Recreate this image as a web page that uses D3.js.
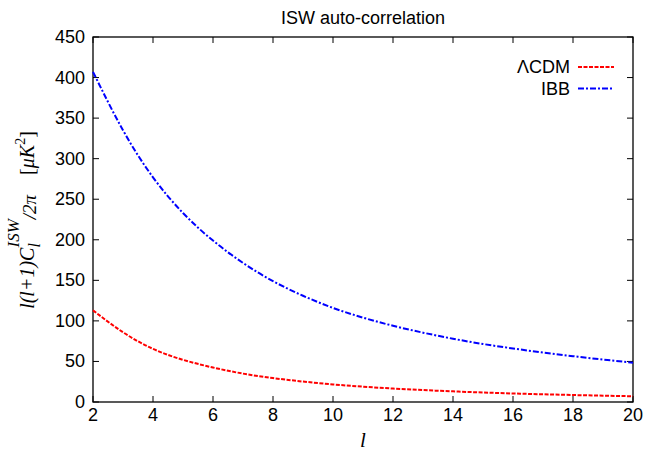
<!DOCTYPE html>
<html><head><meta charset="utf-8">
<script src="https://d3js.org/d3.v7.min.js"></script>
<style>body{margin:0;background:#fff}svg{display:block}</style>
</head><body>
<svg id="c" width="646" height="456"></svg>
<script>
const ells = [2,3,4,5,6,7,8,9,10,11,12,13,14,15,16,17,18,19,20];
const lcdm = [113,86,65.5,52,42.5,35,29.5,25.2,21.7,18.9,16.6,14.7,13.1,11.7,10.5,9.5,8.6,7.8,7.1];
const ibb  = [407,335,277,233,199,171.5,149,131,116,104,94,85.5,78,71.5,66,61,56.5,52.3,48.5];
const xTicks = [2,4,6,8,10,12,14,16,18,20];
const yTicks = [0,50,100,150,200,250,300,350,400,450];
const seriesNames = ["\u039BCDM","IBB"];

const svg = d3.select("#c");
const L = 93, R = 633, T = 37, B = 402;
const x = d3.scaleLinear().domain([2,20]).range([L,R]);
const y = d3.scaleLinear().domain([0,450]).range([B,T]);
const font = "'Liberation Sans', Arial, Helvetica, sans-serif";
const serif = "'Liberation Serif', 'Times New Roman', serif";
const fs = 18;

// frame
svg.append("rect").attr("x",L).attr("y",T).attr("width",R-L).attr("height",B-T)
  .attr("fill","none").attr("stroke","#000").attr("stroke-width",1.3);

// ticks (inside, mirrored)
const tl = 6;
const g = svg.append("g").attr("stroke","#000").attr("stroke-width",1);
xTicks.forEach(v=>{
  g.append("line").attr("x1",x(v)).attr("x2",x(v)).attr("y1",B).attr("y2",B-tl);
  g.append("line").attr("x1",x(v)).attr("x2",x(v)).attr("y1",T).attr("y2",T+tl);
});
yTicks.forEach(v=>{
  g.append("line").attr("x1",L).attr("x2",L+tl).attr("y1",y(v)).attr("y2",y(v));
  g.append("line").attr("x1",R).attr("x2",R-tl).attr("y1",y(v)).attr("y2",y(v));
});

// tick labels
svg.append("g").selectAll("text").data(xTicks).join("text")
  .attr("x",d=>x(d)).attr("y",B+19).attr("text-anchor","middle")
  .attr("font-family",font).attr("font-size",fs).text(d=>d);
svg.append("g").selectAll("text").data(yTicks).join("text")
  .attr("x",L-8).attr("y",d=>y(d)+6).attr("text-anchor","end")
  .attr("font-family",font).attr("font-size",fs).text(d=>d);

// title
svg.append("text").attr("x",(L+R)/2).attr("y",24).attr("text-anchor","middle")
  .attr("font-family",font).attr("font-size",fs).text("ISW auto-correlation");

// x label
svg.append("text").attr("x",(L+R)/2).attr("y",447).attr("text-anchor","middle")
  .attr("font-family",serif).attr("font-style","italic")
  .attr("font-size",21).text("l");

// y label
const yl = svg.append("text").attr("transform","translate(34,220) rotate(-90)")
  .attr("text-anchor","middle")
  .attr("font-family",serif).attr("font-style","italic")
  .attr("font-size",20);
yl.append("tspan").text("l(l+1)C");
yl.append("tspan").attr("font-size",16).attr("dy",6).text("l");
yl.append("tspan").attr("font-size",17).attr("dx",-4.4).attr("dy",-21).text("ISW");
yl.append("tspan").attr("font-size",19).attr("dy",17).text("/2\u03C0");
yl.append("tspan").attr("font-style","normal").attr("dx",20).attr("dy",-2).text("[");
yl.append("tspan").text("\u03BCK");
yl.append("tspan").attr("font-style","normal").attr("font-size",14).attr("dy",-9).text("2");
yl.append("tspan").attr("font-style","normal").attr("dy",9).text("]");

// curves
const line = d3.line().x(d=>x(d[0])).y(d=>y(d[1])).curve(d3.curveNatural);
const styles = [
  {vals:lcdm, color:"#ff0000", dash:"4,1.5"},
  {vals:ibb, color:"#0000ff", dash:"6,2,2,2"}
];
styles.forEach(s=>{
  svg.append("path").datum(ells.map((l,i)=>[l,s.vals[i]]))
    .attr("d",line).attr("fill","none").attr("stroke",s.color)
    .attr("stroke-width",2).attr("stroke-dasharray",s.dash);
});

// legend
styles.forEach((s,i)=>{
  const ly = 67 + i*21.5;
  svg.append("text").attr("x",570).attr("y",ly+6).attr("text-anchor","end")
    .attr("font-family",font).attr("font-size",fs).text(seriesNames[i]);
  svg.append("line").attr("x1",578).attr("x2",614).attr("y1",ly).attr("y2",ly)
    .attr("stroke",s.color).attr("stroke-width",2).attr("stroke-dasharray",s.dash);
});
</script>
</body></html>
